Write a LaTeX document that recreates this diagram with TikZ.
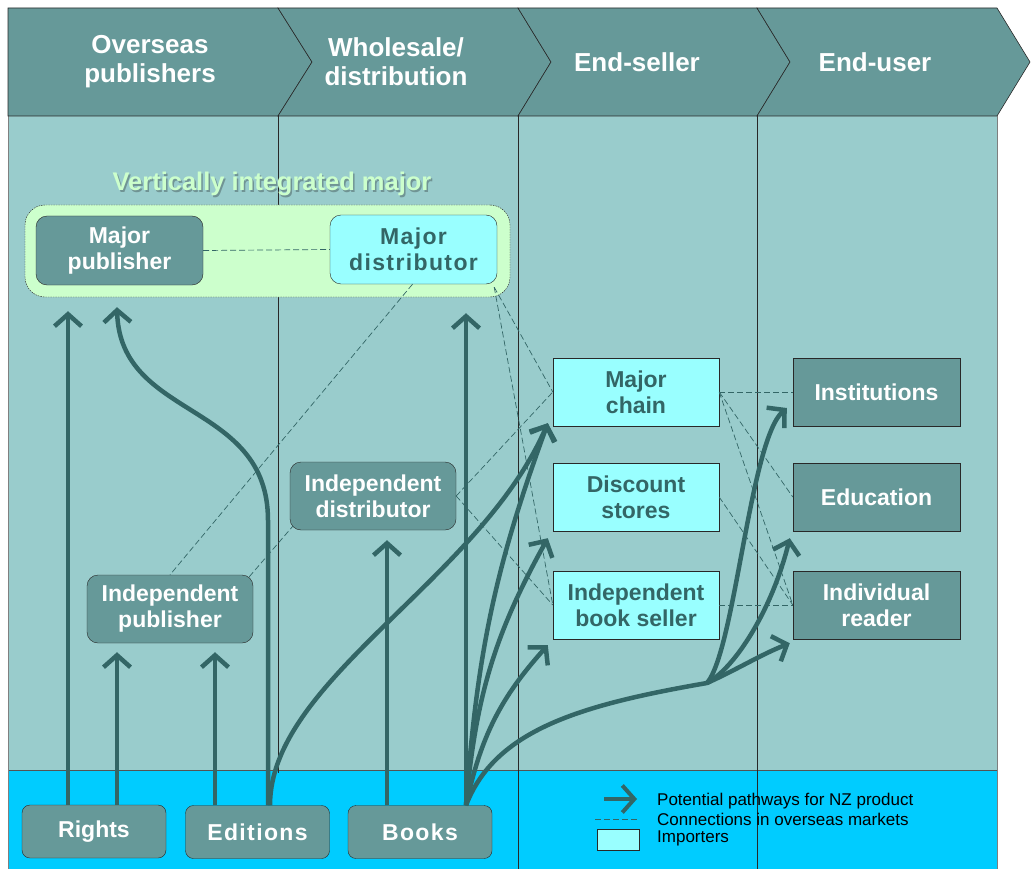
\documentclass[tikz,border=0pt]{standalone}
\usepackage{fontspec}
\setmainfont{Liberation Sans}
\newfontfamily\spacedfont[LetterSpace=6]{Liberation Sans}
\usetikzlibrary{arrows.meta}
\definecolor{band}{RGB}{102,153,153}
\definecolor{bodyfill}{RGB}{153,204,204}
\definecolor{bandblue}{RGB}{0,204,255}
\definecolor{importer}{RGB}{153,255,255}
\definecolor{major}{RGB}{204,255,204}
\definecolor{deep}{RGB}{51,102,102}
\definecolor{rule}{RGB}{40,40,40}
\tikzset{
  headtxt/.style={text=white, font=\fontsize{26}{29}\selectfont\bfseries, align=center},
  pubbox/.style={
    draw=rule, fill=band, rounded corners=11pt, text=white, align=center,
    font=\fontsize{23}{26}\selectfont\bfseries,
    minimum width=167pt, minimum height=69pt, inner sep=0pt
  },
  impbox/.style={pubbox, fill=importer, text=deep},
  shopbox/.style={impbox, sharp corners, minimum width=166pt, minimum height=68pt},
  userbox/.style={pubbox, sharp corners, minimum height=68pt},
  srcbox/.style={pubbox, minimum width=144pt, minimum height=53pt, rounded corners=8pt},
  spaced/.style={font=\spacedfont\fontsize{23}{26}\selectfont\bfseries},
  flow/.style={line width=4.5pt, draw=deep, -{Straight Barb[length=12pt,width=27pt]}},
  link/.style={draw=deep, line width=0.7pt, dash pattern=on 6pt off 3pt},
  legtxt/.style={anchor=west, font=\fontsize{17}{19}\selectfont, inner sep=0pt}
}
\begin{document}
\begin{tikzpicture}[x=1pt,y=-1pt]
\useasboundingbox (0,0) rectangle (1033,869);
% columns and bottom band
\fill[bodyfill] (8,116) rectangle (997,770);
\fill[bandblue] (8,770) rectangle (997,869);
\draw[rule!80, line width=0.8pt] (8,770) -- (997,770);
\draw[gray, line width=1pt] (8,116) -- (8,869);
\draw[rule!60, line width=0.6pt] (997,116) -- (997,869);
\foreach \x/\y in {278/773, 518/869, 757/869}
  \draw[rule, line width=0.7pt] (\x,116) -- (\x,\y);
% header chevrons
\filldraw[fill=band, draw=rule, line width=0.6pt] (8,8) -- (278,8) -- (312,62) -- (278,116) -- (8,116) -- cycle;
\foreach \a/\b/\c/\d in {278/312/518/551, 518/551/757/790, 757/790/997/1030}
  \filldraw[fill=band, draw=rule, line width=0.6pt] (\a,8) -- (\c,8) -- (\d,62) -- (\c,116) -- (\a,116) -- (\b,62) -- cycle;
\node[headtxt] (hpub) at (150,62) {Overseas\\publishers};
\node[headtxt] (hwhole) at (396,62) {Wholesale/\\distribution};
\node[headtxt] (hseller) at (637,62) {End-seller};
\node[headtxt] (huser) at (875,62) {End-user};

% vertically integrated major
\node[draw=rule, dash pattern=on 1.5pt off 1pt, fill=major, rounded corners=20pt,
  minimum width=485pt, minimum height=92pt] (viframe) at (267.5,251) {};
\node[text=deep!70, font=\fontsize{25.5}{28}\selectfont\bfseries] at (273.5,185.5) {Vertically integrated major};
\node[text=major, font=\fontsize{25.5}{28}\selectfont\bfseries] (vilabel) at (272,184) {Vertically integrated major};

% nodes
\node[pubbox] (majpub) at (119.5,250.5) {Major\\publisher};
\node[impbox, spaced] (majdist) at (413.5,249.5) {Major\\distributor};
\node[pubbox, minimum width=166pt, minimum height=68pt] (indist) at (373,496) {Independent\\distributor};
\node[pubbox, minimum width=166pt, minimum height=68pt] (indpub) at (170,609) {Independent\\publisher};
\node[shopbox] (chain) at (636,392) {Major\\chain};
\node[shopbox] (discount) at (636,497) {Discount\\stores};
\node[shopbox] (seller) at (636,605) {Independent\\book seller};
\node[userbox] (inst) at (876.5,392) {Institutions};
\node[userbox] (edu) at (876.5,497) {Education};
\node[userbox] (reader) at (876.5,605) {Individual\\reader};
\node[srcbox] (rights) at (94,831.5) {Rights};
\node[srcbox, spaced] (editions) at (257.5,832) {Editions};
\node[srcbox, spaced] (books) at (420,832) {Books};

% connections in overseas markets
\draw[link] (majpub.east) -- (majdist.west);
\draw[link] ([xshift=-1pt]majdist.south) -- (indpub.north);
\draw[link] ([shift={(-4,2)}]indpub.north east) -- ([shift={(3,-4)}]indist.south west);
\draw[link] (indist.east) -- (chain.west);
\draw[link] (indist.east) -- (seller.west);
\draw[link] ([shift={(-3,3)}]majdist.south east) -- (chain.west);
\draw[link] ([shift={(-3,3)}]majdist.south east) -- (seller.west);
\draw[link] (chain.east) -- (inst.west);
\draw[link] (chain.east) -- (edu.west);
\draw[link] (chain.east) -- (reader.west);
\draw[link] (discount.east) -- (reader.west);
\draw[link] (seller.east) -- (reader.west);

% pathways
\coordinate (r1) at ([xshift=-26pt]rights.north);
\coordinate (r2) at ([xshift=23pt]rights.north);
\coordinate (e1) at ([xshift=-42.5pt]editions.north);
\coordinate (e2) at ([xshift=10.5pt]editions.north);
\coordinate (e3) at ([xshift=12.5pt]editions.north);
\coordinate (b1) at ([xshift=-33pt]books.north);
\coordinate (b2) at ([xshift=46pt]books.north);
\coordinate (fork) at (707,683);
\draw[flow, shorten >=14pt] (r1) -- (r1 |- viframe.south);
\draw[flow, shorten >=9pt] (r2) -- (r2 |- indpub.south);
\draw[flow, shorten >=9pt] (e1) -- (e1 |- indpub.south);
\draw[flow] (e2) -- ([yshift=285pt]e2) .. controls ([yshift=405pt]e2) and ([shift={(0.5,135)}]majpub.south) .. ([shift={(-2.5,22)}]majpub.south);
\draw[flow] (e3) .. controls ([yshift=125pt]e3) and ([shift={(-73,154)}]chain.south west) .. ([shift={(-5,-3)}]chain.south west);
\draw[flow, shorten >=10pt] (b1) -- (b1 |- indist.south);
\draw[flow, shorten >=29pt] (b2) -- (b2 |- majdist.south);
\draw[flow] (b2) to[bend left=8] ([shift={(-5,-3)}]chain.south west);
\draw[flow] (b2) to[bend left=12] ([shift={(-5,7)}]discount.south west);
\draw[flow] (b2) to[bend left=15] ([shift={(-5,6)}]seller.south west);
\draw[flow] (b2) .. controls (495,730) and (580,705) .. (fork) .. controls (740,668) and (760,655) .. ([shift={(-3,4)}]reader.south west);
\draw[flow] (fork) .. controls (735,668) and (772,610) .. ([shift={(-3,7)}]edu.south west);
\draw[flow] (fork) .. controls (735,650) and (750,440) .. ([shift={(-6,16)}]inst.west);

% legend
\coordinate (legA) at (604,799);
\coordinate (legB) at (637,799);
\coordinate (legC) at (595,819);
\coordinate (legD) at (637,819);
\draw[flow, line width=4pt] (legA) -- (legB);
\draw[link] (legC) -- (legD);
\node[draw=rule, fill=importer, minimum width=42pt, minimum height=21pt, inner sep=0pt] (legbox) at (618,839.5) {};
\node[legtxt] (legflow) at (657,801) {Potential pathways for NZ product};
\node[legtxt] (leglink) at (657,819.5) {Connections in overseas markets};
\node[legtxt] (legimp) at (657,838.5) {Importers};
\end{tikzpicture}
\end{document}
